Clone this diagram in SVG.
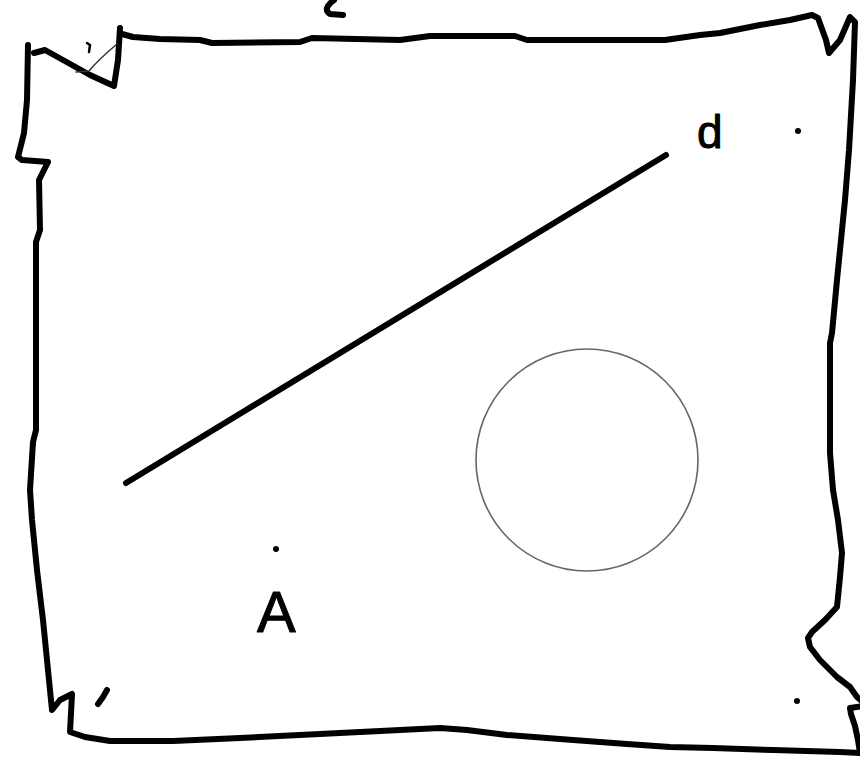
<svg xmlns="http://www.w3.org/2000/svg" width="860" height="758" viewBox="0 0 860 758">
<style>
.ink{fill:none;stroke:#000;stroke-width:6;stroke-linecap:round;stroke-linejoin:round}
.thin{fill:none;stroke:#333;stroke-width:1.5;stroke-linecap:round}
.lbl{font-family:"Liberation Sans",sans-serif;fill:#000;stroke:#000;stroke-width:1;stroke-linejoin:round}
</style>
<rect width="860" height="758" fill="#fff"/>
<g id="frame">
<path class="ink" d="M120 28 L118 60 L114 86 L90 75 L45 50 L34 53"/>
<path class="ink" d="M28 45 L27 100 L24 133 L18 157 L22 160 L48 162 L39 180 L40 230 L36 242 L36 430 L33 442 L30 490 L32 520 L37 570 L43 620 L52 710 L60 700 L72 694 L70 732 L85 737 L110 741 L173 741 L240 738 L340 733 L440 728 L467 730 L507 735 L573 740 L627 744 L670 747 L713 748 L773 750 L840 752 L860 753"/>
<path class="ink" d="M122 34 L133 37 L160 39 L200 40 L212 43 L300 42 L312 38 L400 40 L430 36 L515 36 L527 40 L665 40 L700 35 L720 33 L760 25 L790 20 L812 15 L818 18 L826 40 L829 53 L840 40 L850 17 L855 22 L853 80 L849 150 L845 200 L840 250 L837 280 L832 333 L830 343 L830 453 L833 490 L838 520 L842 553 L840 577 L837 607 L825 620 L812 632 L808 638 L810 647 L820 660 L837 677 L850 687 L857 697 L863 702"/>
<path class="ink" d="M863 706 L850 708 L851 714 L855 726 L858 740 L860 753"/>
<path class="ink" d="M107 690 L103 697 L98 704"/>
<path class="ink" d="M334 0 Q322 9 330 14 L343 15"/>
<path class="thin" d="M76 72 L89 71 Q98 60 117 44"/>
<path d="M87 43 L90 45 L89 52" fill="none" stroke="#000" stroke-width="2.5" stroke-linecap="round"/>
</g>
<g id="connectors">
<line x1="126" y1="483" x2="666" y2="155" stroke="#000" stroke-width="6" stroke-linecap="round"/>
</g>
<g id="circle">
<circle cx="587" cy="460" r="111" fill="none" stroke="#666" stroke-width="1.6"/>
</g>
<g id="node-d">
<text class="lbl" x="697" y="148" font-size="46">d</text>
<circle cx="798" cy="131" r="3"/>
</g>
<g id="node-A">
<circle cx="276" cy="549" r="3"/>
<text class="lbl" x="257" y="632" font-size="58">A</text>
</g>
<g id="dot-br">
<circle cx="797" cy="701" r="3"/>
</g>
</svg>
